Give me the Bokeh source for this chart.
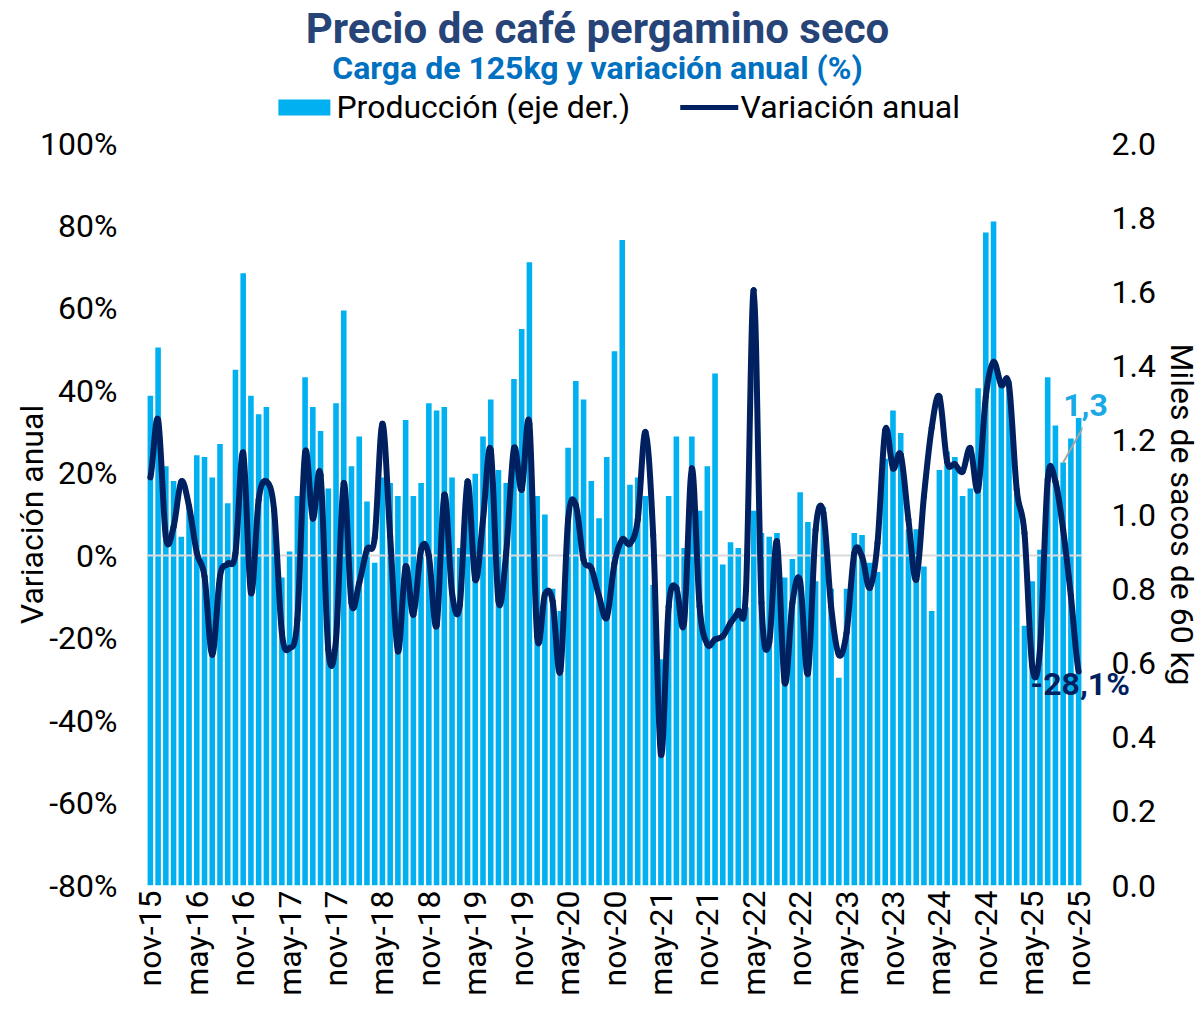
import math
from bokeh.plotting import figure
from bokeh.layouts import column
from bokeh.models import (Range1d, LinearAxis, FixedTicker, PrintfTickFormatter,
                          ColumnDataSource, Label)
from bokeh.core.properties import value
from bokeh.embed import file_html
from bokeh.resources import INLINE

# ---------------- data ----------------
tick_labels = ["nov-15", "may-16", "nov-16", "may-17", "nov-17", "may-18", "nov-18",
               "may-19", "nov-19", "may-20", "nov-20", "may-21", "nov-21", "may-22",
               "nov-22", "may-23", "nov-23", "may-24", "nov-24", "may-25", "nov-25"]

# Producción (miles de sacos de 60 kg), monthly nov-15 .. nov-25
produccion = [
    1.32, 1.45, 1.13, 1.09, 0.94, 1.02, 1.16, 1.155, 1.10, 1.19, 1.03, 1.39,
    1.65, 1.32, 1.27, 1.29, 1.02, 0.83, 0.90, 1.05, 1.37, 1.29, 1.225, 1.07,
    1.30, 1.55, 1.13, 1.21, 1.035, 0.87, 1.10, 1.085, 1.05, 1.255, 1.05, 1.085,
    1.30, 1.28, 1.29, 1.10, 0.91, 1.06, 1.11, 1.21, 1.31, 1.12, 1.085, 1.365,
    1.50, 1.68, 1.05, 1.00, 0.80, 0.74, 1.18, 1.36, 1.31, 1.09, 0.99, 1.155,
    1.44, 1.74, 1.08, 1.10, 1.05, 0.81, 0.61, 1.05, 1.21, 0.91, 1.21, 1.01,
    1.13, 1.38, 0.865, 0.925, 0.91, 0.75, 1.01, 0.95, 0.94, 0.95, 0.83, 0.88,
    1.06, 0.98, 0.82, 1.02, 0.80, 0.56, 0.80, 0.95, 0.945, 0.87, 0.845, 1.15,
    1.28, 1.22, 0.96, 0.96, 0.86, 0.74, 1.12, 1.17, 1.155, 1.05, 1.07, 1.34,
    1.76, 1.79, 1.35, 1.36, 1.06, 0.70, 0.82, 0.905, 1.37, 1.24, 1.14, 1.205,
    1.26]

# Variación anual (%)
variacion = [
    19, 33, 4.5, 7, 18, 12, 0.7, -5, -24, -5, -2, 0.6,
    25, -9, 13.6, 18, 11, -18.7, -22.4, -15.5, 25, 9, 19.6, -22.8,
    -20.3, 17.6, -11.5, -6.6, 1.5, 4.3, 32, 4.7, -23.2, -2.6, -14.3, 1.5,
    0, -17, 14.8, -9, -12, 18, -5.8, 8.7, 25.7, -11, 0.7, 26,
    16, 32, -19.5, -9.4, -11, -28, 8.7, 12.3, -1, -3, -9.8, -15,
    -1.8, 3.9, 2.9, 8.7, 30, 5, -48.2, -12.3, -7.8, -16.3, 21.2, -12.3,
    -21.5, -20.3, -19.5, -16.3, -13.5, -8.2, 64.4, -11.4, -21.1, 3.5, -30.8, -11.4,
    -6.2, -28.6, 6.3, 10.4, -12.3, -24, -18.7, 0.6, -0.2, -7.8, 3.1, 30.5,
    21.2, 24.5, 8.7, -5.8, 14.4, 31, 38.6, 22.8, 22.2, 20.4, 26.1, 16,
    38.6, 47, 41.4, 41.4, 16, 5.5, -26.8, -22.7, 18.4, 18, 6.3, -9.8,
    -28.1]

title_text = "Precio de café pergamino seco"
subtitle_text = "Carga de 125kg y variación anual (%)"
legend_labels = ["Producción (eje der.)", "Variación anual"]

n = len(produccion)
idx = list(range(n))

BAR = "#00B0F0"
NAVY = "#002060"
FONT = "Roboto"
HEAD_H = 124

# ---------------- header (title, subtitle, legend) ----------------
# same horizontal frame as the chart (x in month-index units), y in pixels from the top
h = figure(frame_width=936, frame_height=HEAD_H,
           min_border_left=146, min_border_right=118, min_border_top=0, min_border_bottom=0,
           x_range=Range1d(-0.5, n - 0.5), y_range=Range1d(HEAD_H, 0),
           x_axis_location=None, y_axis_location=None,
           toolbar_location=None, output_backend="svg", tools="")
h.outline_line_color = None
h.grid.visible = False
h.text(x=[57.8], y=[28], text=[title_text], text_align="center", text_baseline="middle",
       text_font=value(FONT), text_font_size="42px", text_font_style="bold",
       text_color="#264478")
h.text(x=[57.8], y=[67], text=[subtitle_text], text_align="center", text_baseline="middle",
       text_font=value(FONT), text_font_size="32px", text_font_style="bold",
       text_color="#0070C0")
h.quad(left=[16.55], right=[23.27], top=[99], bottom=[115], fill_color=BAR, line_color=None)
h.segment(x0=[68.5], y0=[107], x1=[76.0], y1=[107], line_color=NAVY, line_width=5)
h.text(x=[24.05, 76.3], y=[106, 106], text=legend_labels, text_align="left",
       text_baseline="middle", text_font=value(FONT), text_font_size="32px",
       text_color="black")

# ---------------- main chart ----------------
p = figure(frame_width=936, frame_height=742,
           min_border_left=146, min_border_top=143 - HEAD_H, min_border_right=100,
           min_border_bottom=110,
           x_range=Range1d(-0.5, n - 0.5), y_range=Range1d(-80, 100),
           toolbar_location=None, output_backend="svg", tools="")
p.extra_y_ranges = {"prod": Range1d(0, 2)}
p.outline_line_color = None
p.xgrid.visible = False
p.ygrid.visible = False

src = ColumnDataSource(dict(x=idx, prod=produccion, var=variacion))
p.vbar(x="x", top="prod", bottom=0, width=0.72, y_range_name="prod",
       fill_color=BAR, line_color=None, source=src)

p.hspan(y=0, line_color="#D9D9D9", line_width=2)

# smoothed line drawn as Bezier segments through the data points
x0, y0, x1, y1, cx0, cy0, cx1, cy1 = [], [], [], [], [], [], [], []
for i in range(n - 1):
    vm = variacion[i - 1] if i > 0 else variacion[i]
    vp = variacion[i + 2] if i + 2 < n else variacion[i + 1]
    x0.append(i); y0.append(variacion[i])
    x1.append(i + 1); y1.append(variacion[i + 1])
    cx0.append(i + 1 / 3); cy0.append(variacion[i] + (variacion[i + 1] - vm) / 6)
    cx1.append(i + 1 - 1 / 3); cy1.append(variacion[i + 1] - (vp - variacion[i]) / 6)
p.bezier(x0=x0, y0=y0, x1=x1, y1=y1, cx0=cx0, cy0=cy0, cx1=cx1, cy1=cy1,
         line_color=NAVY, line_width=6, line_cap="round", line_join="round")

# axes
yl = p.yaxis[0]
yl.ticker = FixedTicker(ticks=list(range(-80, 101, 20)))
yl.formatter = PrintfTickFormatter(format="%d%%")
yl.axis_label = "Variación anual"

yr = LinearAxis(y_range_name="prod", ticker=FixedTicker(ticks=[i / 5 for i in range(11)]),
                formatter=PrintfTickFormatter(format="%.1f"),
                axis_label="Miles de sacos de 60 kg")
p.add_layout(yr, "right")

xa = p.xaxis[0]
xa.ticker = FixedTicker(ticks=list(range(0, n, 6)))
xa.major_label_overrides = {i * 6: lab for i, lab in enumerate(tick_labels)}
xa.major_label_orientation = math.pi / 2

for ax in (yl, yr, xa):
    ax.axis_line_color = None
    ax.major_tick_line_color = None
    ax.minor_tick_line_color = None
    ax.major_tick_out = 0
    ax.major_tick_in = 0
    ax.minor_tick_out = 0
    ax.major_label_text_font = FONT
    ax.major_label_text_font_size = "32px"
    ax.major_label_text_color = "black"
    ax.axis_label_text_font = FONT
    ax.axis_label_text_font_size = "32px"
    ax.axis_label_text_font_style = "normal"
    ax.axis_label_text_color = "black"
yl.major_label_standoff = 29
yl.axis_label_standoff = -14
yr.major_label_standoff = 29
yr.axis_label_standoff = 4
xa.major_label_standoff = 5

# ---- data labels for the last observation (side panel so they are not clipped)
last_p = produccion[-1]
last_v = variacion[-1]
p.segment(x0=[n - 3], y0=[produccion[n - 3]], x1=[n - 0.4], y1=[produccion[n - 3] + 0.096],
          y_range_name="prod", line_color="#A6A6A6", line_width=2)
p.add_layout(Label(x=n - 3, y=1.296, y_range_name="prod",
                   text=f"{last_p:.1f}".replace(".", ","), text_align="left",
                   text_baseline="middle", text_font=FONT, text_font_size="32px",
                   text_font_style="bold", text_color="#19A9E5"), "right")
p.add_layout(Label(x=n - 0.8, y=last_v - 2.9,
                   text=f"{last_v:.1f}".replace(".", ",") + "%", text_align="center",
                   text_baseline="middle", text_font=FONT, text_font_size="32px",
                   text_font_style="bold", text_color=NAVY), "right")

layout = column(h, p, spacing=0)
open("out.html", "w").write(file_html(layout, INLINE))
